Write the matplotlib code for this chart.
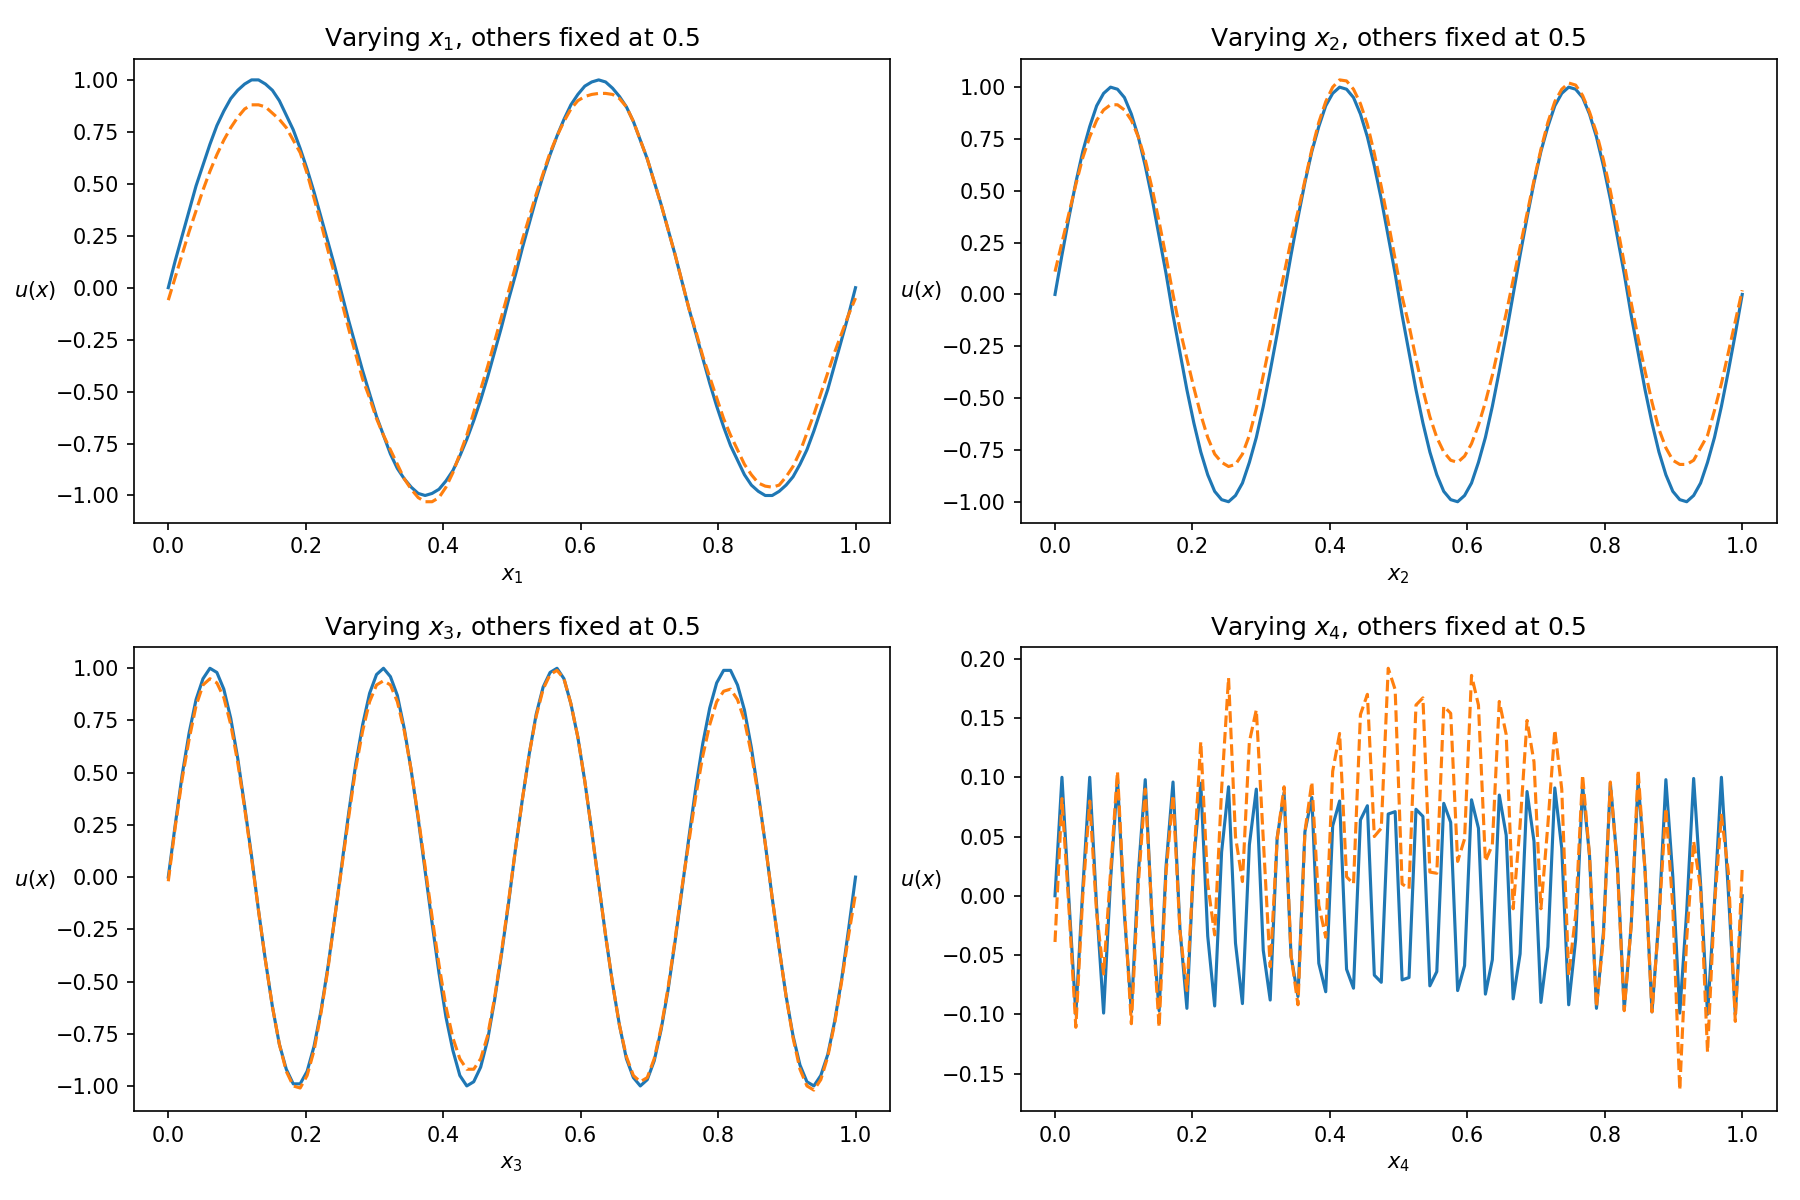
import numpy as np
import matplotlib
matplotlib.use("Agg")
import matplotlib.pyplot as plt

# sample positions (100 evenly spaced samples on [0, 1])
x_vals = np.linspace(0.0, 1.0, 100)

# ---- panel 1: varying x1 ----
true_x1 = [0, 0.13, 0.25, 0.37, 0.49, 0.59, 0.69, 0.78, 0.85, 0.91,
           0.95, 0.98, 1.00, 1.00, 0.98, 0.95, 0.90, 0.83, 0.76, 0.67,
           0.57, 0.46, 0.34, 0.22, 0.10, -0.03, -0.16, -0.28, -0.40, -0.51,
           -0.62, -0.71, -0.80, -0.87, -0.92, -0.96, -0.99, -1.00, -0.99, -0.97,
           -0.93, -0.88, -0.81, -0.73, -0.64, -0.54, -0.43, -0.31, -0.19, -0.06,
           0.06, 0.19, 0.31, 0.43, 0.54, 0.64, 0.73, 0.81, 0.88, 0.93,
           0.97, 0.99, 1.00, 0.99, 0.96, 0.92, 0.87, 0.80, 0.71, 0.62,
           0.51, 0.40, 0.28, 0.16, 0.03, -0.10, -0.22, -0.34, -0.46, -0.57,
           -0.67, -0.76, -0.83, -0.90, -0.95, -0.98, -1.00, -1.00, -0.98, -0.95,
           -0.91, -0.85, -0.78, -0.69, -0.59, -0.49, -0.37, -0.25, -0.13, 0]
pred_x1 = [-0.06, 0.05, 0.16, 0.27, 0.37, 0.47, 0.56, 0.64, 0.71, 0.77,
           0.82, 0.86, 0.88, 0.88, 0.87, 0.84, 0.81, 0.77, 0.71, 0.65,
           0.55, 0.43, 0.31, 0.18, 0.06, -0.07, -0.20, -0.32, -0.44, -0.53,
           -0.63, -0.71, -0.78, -0.85, -0.92, -0.97, -1.01, -1.03, -1.03, -1.01,
           -0.96, -0.89, -0.80, -0.71, -0.60, -0.49, -0.38, -0.26, -0.14, -0.02,
           0.10, 0.23, 0.34, 0.45, 0.55, 0.65, 0.73, 0.80, 0.86, 0.90,
           0.92, 0.93, 0.935, 0.935, 0.93, 0.91, 0.87, 0.80, 0.71, 0.62,
           0.51, 0.40, 0.28, 0.16, 0.03, -0.10, -0.21, -0.33, -0.43, -0.53,
           -0.63, -0.71, -0.78, -0.85, -0.90, -0.94, -0.955, -0.96, -0.95, -0.91,
           -0.86, -0.79, -0.70, -0.61, -0.51, -0.41, -0.31, -0.22, -0.13, -0.05]

# ---- panel 2: varying x2 ----
true_x2 = [0, 0.19, 0.37, 0.54, 0.69, 0.81, 0.91, 0.97, 1.00, 0.99,
           0.95, 0.87, 0.76, 0.62, 0.46, 0.28, 0.10, -0.10, -0.28, -0.46,
           -0.62, -0.76, -0.87, -0.95, -0.99, -1.00, -0.97, -0.91, -0.81, -0.69,
           -0.54, -0.37, -0.19,
           0, 0.19, 0.37, 0.54, 0.69, 0.81, 0.91, 0.97, 1.00, 0.99,
           0.95, 0.87, 0.76, 0.62, 0.46, 0.28, 0.10, -0.10, -0.28, -0.46,
           -0.62, -0.76, -0.87, -0.95, -0.99, -1.00, -0.97, -0.91, -0.81, -0.69,
           -0.54, -0.37, -0.19,
           0, 0.19, 0.37, 0.54, 0.69, 0.81, 0.91, 0.97, 1.00, 0.99,
           0.95, 0.87, 0.76, 0.62, 0.46, 0.28, 0.10, -0.10, -0.28, -0.46,
           -0.62, -0.76, -0.87, -0.95, -0.99, -1.00, -0.97, -0.91, -0.81, -0.69,
           -0.54, -0.37, -0.19, 0]
pred_x2 = [0.11, 0.25, 0.39, 0.53, 0.66, 0.76, 0.84, 0.89, 0.915, 0.915,
           0.89, 0.84, 0.76, 0.65, 0.51, 0.35, 0.18, 0.00, -0.17, -0.31,
           -0.45, -0.58, -0.69, -0.77, -0.81, -0.83, -0.82, -0.77, -0.68, -0.55,
           -0.39, -0.23, -0.06,
           0.10, 0.26, 0.40, 0.55, 0.70, 0.83, 0.93, 1.00, 1.035, 1.03,
           0.99, 0.92, 0.82, 0.68, 0.52, 0.35, 0.17, -0.01, -0.15, -0.31,
           -0.46, -0.59, -0.69, -0.76, -0.80, -0.81, -0.78, -0.72, -0.63, -0.52,
           -0.39, -0.24, -0.09,
           0.07, 0.23, 0.39, 0.55, 0.70, 0.83, 0.93, 0.99, 1.02, 1.01,
           0.96, 0.88, 0.78, 0.65, 0.50, 0.33, 0.15, -0.04, -0.21, -0.37,
           -0.52, -0.65, -0.74, -0.80, -0.82, -0.82, -0.80, -0.74, -0.68, -0.56,
           -0.43, -0.28, -0.13, 0.02]

# ---- panel 3: varying x3 ----
true_x3 = [0, 0.25, 0.49, 0.69, 0.85, 0.95, 1.00, 0.98, 0.90, 0.76,
           0.57, 0.34, 0.10, -0.16, -0.40, -0.62, -0.80, -0.92, -0.99, -0.99,
           -0.93, -0.81, -0.64, -0.43, -0.19,
           0.06, 0.31, 0.54, 0.73, 0.88, 0.97, 1.00, 0.96, 0.87, 0.71,
           0.51, 0.28, 0.03, -0.22, -0.46, -0.67, -0.83, -0.95, -1.00, -0.98,
           -0.91, -0.78, -0.59, -0.37, -0.13,
           0.13, 0.37, 0.59, 0.78, 0.91, 0.98, 1.00, 0.95, 0.83, 0.67,
           0.46, 0.22, -0.03, -0.28, -0.51, -0.71, -0.87, -0.96, -1.00, -0.97,
           -0.88, -0.73, -0.54, -0.31, -0.06,
           0.19, 0.43, 0.64, 0.81, 0.93, 0.99, 0.99, 0.92, 0.80, 0.62,
           0.40, 0.16, -0.10, -0.34, -0.57, -0.76, -0.90, -0.98, -1.00, -0.95,
           -0.85, -0.69, -0.49, -0.25, 0]
pred_x3 = [-0.02, 0.24, 0.47, 0.66, 0.82, 0.92, 0.95, 0.93, 0.86, 0.73,
           0.55, 0.33, 0.09, -0.16, -0.40, -0.62, -0.80, -0.93, -1.00, -1.01,
           -0.95, -0.83, -0.65, -0.44, -0.19,
           0.05, 0.29, 0.52, 0.70, 0.84, 0.92, 0.94, 0.92, 0.84, 0.70,
           0.51, 0.29, 0.05, -0.19, -0.42, -0.62, -0.77, -0.87, -0.92, -0.92,
           -0.87, -0.76, -0.58, -0.36, -0.12,
           0.13, 0.37, 0.59, 0.77, 0.90, 0.97, 0.99, 0.95, 0.83, 0.67,
           0.46, 0.22, -0.03, -0.28, -0.51, -0.71, -0.86, -0.95, -0.98, -0.96,
           -0.87, -0.72, -0.53, -0.30, -0.05,
           0.17, 0.39, 0.58, 0.73, 0.84, 0.89, 0.90, 0.85, 0.75, 0.59,
           0.39, 0.16, -0.10, -0.34, -0.57, -0.77, -0.92, -1.00, -1.02, -0.97,
           -0.86, -0.70, -0.50, -0.28, -0.08]

# ---- panel 4: varying x4 ----
true_x4 = [0.000, 0.100, -0.003, -0.100, 0.006, 0.100, -0.010, -0.099, 0.013, 0.099,
           -0.016, -0.098, 0.019, 0.098, -0.022, -0.097, 0.025, 0.096, -0.028, -0.095,
           0.031, 0.095, -0.034, -0.093, 0.037, 0.092, -0.040, -0.091, 0.043, 0.090,
           -0.046, -0.088, 0.049, 0.087, -0.051, -0.085, 0.054, 0.083, -0.057, -0.081,
           0.059, 0.080, -0.062, -0.078, 0.064, 0.076, -0.067, -0.073, 0.069, 0.071,
           -0.071, -0.069, 0.073, 0.067, -0.076, -0.064, 0.078, 0.062, -0.080, -0.059,
           0.081, 0.057, -0.083, -0.054, 0.085, 0.051, -0.087, -0.049, 0.088, 0.046,
           -0.090, -0.043, 0.091, 0.040, -0.092, -0.037, 0.093, 0.034, -0.095, -0.031,
           0.095, 0.028, -0.096, -0.025, 0.097, 0.022, -0.098, -0.019, 0.098, 0.016,
           -0.099, -0.013, 0.099, 0.010, -0.100, -0.006, 0.100, 0.003, -0.100, 0.000]
pred_x4 = [-0.039, 0.082, -0.010, -0.111, 0.000, 0.080, -0.015, -0.066, 0.020, 0.105,
           -0.010, -0.108, 0.010, 0.090, -0.020, -0.111, 0.020, 0.085, -0.030, -0.080,
           0.030, 0.130, 0.010, -0.033, 0.090, 0.184, 0.050, 0.012, 0.130, 0.157,
           0.048, -0.060, 0.048, 0.092, -0.050, -0.092, 0.054, 0.096, -0.008, -0.035,
           0.105, 0.137, 0.016, 0.010, 0.153, 0.170, 0.050, 0.057, 0.192, 0.174,
           0.010, 0.006, 0.161, 0.167, 0.020, 0.019, 0.160, 0.154, 0.029, 0.048,
           0.186, 0.161, 0.029, 0.043, 0.164, 0.136, -0.011, 0.060, 0.148, 0.113,
           -0.011, 0.060, 0.140, 0.090, -0.067, -0.016, 0.102, 0.034, -0.094, -0.036,
           0.096, 0.025, -0.097, -0.025, 0.106, 0.020, -0.098, -0.020, 0.074, -0.010,
           -0.164, -0.036, 0.046, 0.006, -0.132, -0.008, 0.068, 0.020, -0.106, 0.023]

panel_vars = ["x_1", "x_2", "x_3", "x_4"]
true_series = [true_x1, true_x2, true_x3, true_x4]
pred_series = [pred_x1, pred_x2, pred_x3, pred_x4]

fig, axes = plt.subplots(2, 2, figsize=(12, 8), dpi=150)
fig.subplots_adjust(left=0.0744, right=0.987, top=0.951, bottom=0.074,
                    wspace=0.173, hspace=0.268)

for ax, var, ys, ps in zip(axes.flat, panel_vars, true_series, pred_series):
    ax.plot(x_vals, ys, color="C0", linewidth=1.5)
    ax.plot(x_vals, ps, color="C1", linestyle="--", linewidth=1.5)
    ax.set_title(f"Varying ${var}$, others fixed at 0.5")
    ax.set_xlabel(f"${var}$")
    ax.set_ylabel("$u(x)$", rotation=0, labelpad=10, va="center")

fig.savefig("out.png", dpi=150)
